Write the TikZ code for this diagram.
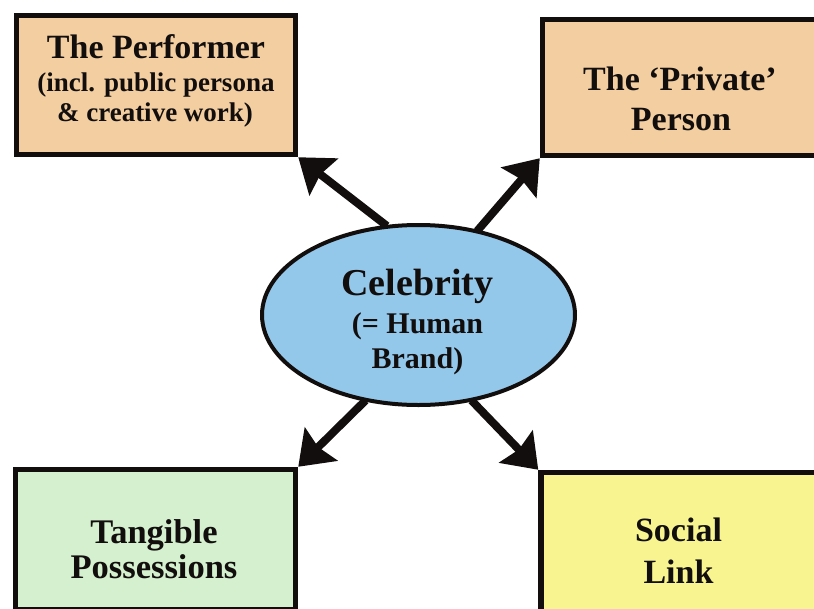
\documentclass[tikz,border=0pt]{standalone}
\usepackage{fontspec}
\setmainfont{Liberation Serif}
\usetikzlibrary{arrows.meta,shapes.geometric}
\definecolor{peach}{RGB}{242,206,160}
\definecolor{mint}{RGB}{212,240,206}
\definecolor{lemon}{RGB}{248,245,145}
\definecolor{skyb}{RGB}{148,200,234}
\definecolor{ink}{RGB}{18,14,14}
\begin{document}
\begin{tikzpicture}[x=1pt,y=-1pt,
  box/.style={draw=ink,line width=5.5pt,rectangle,inner sep=0pt},
  txt/.style={anchor=base,inner sep=0pt,text=ink},
  big/.style={font=\fontsize{34}{40}\selectfont\bfseries},
  mid/.style={font=\fontsize{27}{32}\selectfont\bfseries},
  conn/.style={draw=ink,line width=8pt,-{Stealth[length=32pt,width=46pt,inset=4pt]},shorten <=-1.5pt}]
\useasboundingbox (0,0) rectangle (814,608);
\clip (0,0) rectangle (814,608);
% boxes
\node[box,fill=peach,minimum width=279pt,minimum height=139pt] (perf) at (156,85) {};
\node[box,fill=peach,minimum width=277pt,minimum height=136pt] (priv) at (681,87.5) {};
\node[box,fill=mint,minimum width=280pt,minimum height=140pt] (tang) at (155.5,539.5) {};
\node[box,fill=lemon,minimum width=278pt,minimum height=140pt] (soc) at (680,542.5) {};
% ellipse
\node[ellipse,draw=ink,line width=4pt,fill=skyb,inner sep=0pt,minimum width=313pt,minimum height=180pt] (cel) at (418.5,315) {};
% texts
\node[txt,big] (perf1) at (156,58.3) {The Performer};
\node[txt,mid] (perf2) at (156,91) {(incl. public persona};
\node[txt,mid] (perf3) at (155,121.7) {\& creative work)};
\node[txt,big] (priv1) at (680,90) {The ‘Private’};
\node[txt,big] (priv2) at (681,130) {Person};
\node[txt,font=\fontsize{38}{44}\selectfont\bfseries] (cel1) at (417.5,295) {Celebrity};
\node[txt,font=\fontsize{30}{36}\selectfont\bfseries] (cel2) at (417.5,333) {(= Human};
\node[txt,font=\fontsize{30}{36}\selectfont\bfseries] (cel3) at (417.5,368) {Brand)};
\node[txt,font=\fontsize{34.5}{40}\selectfont\bfseries] (tang1) at (154,543) {Tangible};
\node[txt,font=\fontsize{34.5}{40}\selectfont\bfseries] (tang2) at (154,578) {Possessions};
\node[txt,big] (soc1) at (678.5,541.7) {Social};
\node[txt,big] (soc2) at (678.5,583) {Link};
% connectors
\draw[conn] (cel.110.6) -- (perf.south east);
\draw[conn] (cel.55.4) -- (priv.south west);
\draw[conn] (cel.238) -- (tang.north east);
\draw[conn] (cel.302) -- (soc.north west);
\end{tikzpicture}
\end{document}
